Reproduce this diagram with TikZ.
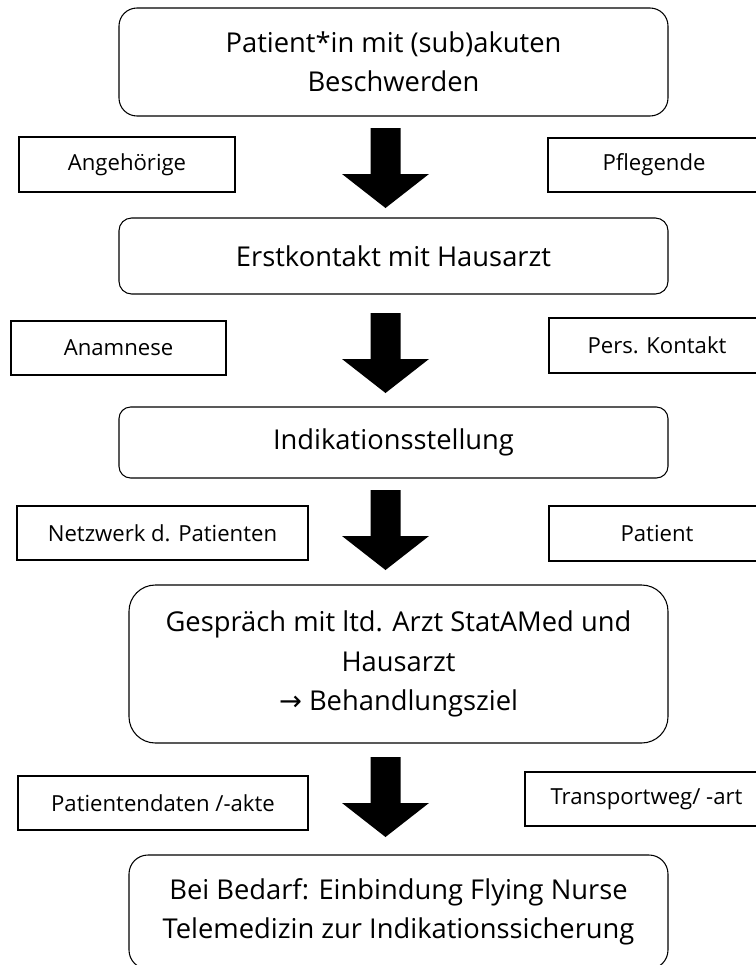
\documentclass[tikz,border=0pt]{standalone}
\usepackage{fontspec}
\setmainfont{Open Sans}
\newfontfamily\arrowfont{DejaVu Sans}
\begin{document}
\begin{tikzpicture}[x=0.75pt,y=-0.75pt,
  mainbox/.style={draw=black,line width=0.8pt,align=center,inner sep=0pt,
    minimum width=411.75pt,font=\fontsize{20.5}{29.6}\selectfont},
  sidebox/.style={draw=black,line width=0.8pt,align=center,inner sep=0pt,
    minimum height=40.5pt,font=\fontsize{16.6}{20}\selectfont},
  blockarrow/.pic={\fill[black] (-15,0) -- (15,0) -- (15,46) -- (43.5,46) -- (0,80) -- (-43.5,46) -- (-15,46) -- cycle;}
]
\useasboundingbox (0,0) rectangle (756,965);
% main boxes
\node[mainbox,minimum height=81pt,rounded corners=13.5pt] (b1) at (393.5,62) {Patient*in mit (sub)akuten\\Beschwerden};
\node[mainbox,minimum height=57pt,rounded corners=9.5pt] (b2) at (393.5,256) {Erstkontakt mit Hausarzt};
\node[mainbox,minimum height=53.25pt,rounded corners=8.75pt] (b3) at (393.5,442.5) {Indikationsstellung};
\node[mainbox,minimum width=404.25pt,minimum height=118.5pt,rounded corners=19.75pt] (b4) at (398.5,664) {Gespräch mit ltd. Arzt StatAMed und\\Hausarzt\\{\arrowfont →} Behandlungsziel};
\node[mainbox,minimum width=404.25pt,minimum height=85.5pt,rounded corners=14.25pt] (b5) at (398.5,912) {Bei Bedarf: Einbindung Flying Nurse\\Telemedizin zur Indikationssicherung};
% side boxes
\node[sidebox,minimum width=162pt,minimum height=41.25pt] (s1l) at (127,164.5) {Angehörige};
\node[sidebox,minimum width=159pt] (s1r) at (654,165) {Pflegende};
\node[sidebox,minimum width=161.25pt] (s2l) at (118.5,348) {Anamnese};
\node[sidebox,minimum width=162pt,minimum height=41.25pt] (s2r) at (657,345.5) {Pers. Kontakt};
\node[sidebox,minimum width=218.25pt] (s3l) at (162.5,533) {Netzwerk d. Patienten};
\node[sidebox,minimum width=162pt,minimum height=41.25pt] (s3r) at (657,533.5) {Patient};
\node[sidebox,minimum width=217.5pt] (s4l) at (163,803) {Patientendaten /-akte};
\node[sidebox,minimum width=182.25pt] (s4r) at (646.5,799) {Transportweg/ -art};
% block arrows
\pic at (385.5,128) {blockarrow};
\pic at (385.5,313) {blockarrow};
\pic at (385.5,490) {blockarrow};
\pic at (385.5,757) {blockarrow};
\end{tikzpicture}
\end{document}
